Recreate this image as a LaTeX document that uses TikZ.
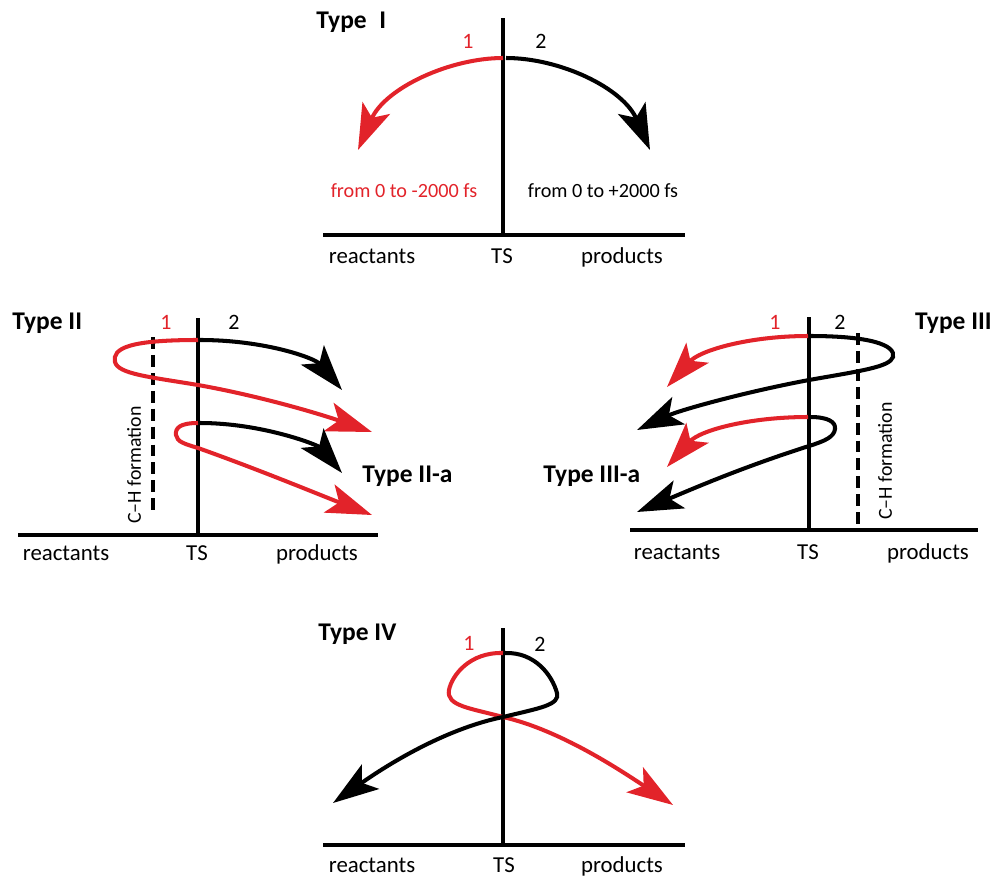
\documentclass[tikz,border=0pt]{standalone}
\usepackage{fontspec}
\setmainfont{Carlito}
\usepackage{xcolor}
\usepackage{tikz}
\usetikzlibrary{arrows.meta}
\definecolor{trajred}{HTML}{E2232A}

\begin{document}
\begin{tikzpicture}[x=0.02cm,y=-0.02cm,
  axis/.style={line width=2.6pt},
  chline/.style={line width=2.4pt,dash pattern=on 6.8pt off 3.4pt},
  traj/.style={line width=2.3pt,-{Stealth[length=26pt,width=17pt,inset=6pt]}},
  lbl/.style={font=\fontsize{13}{15}\selectfont,anchor=base,inner sep=0pt},
  num/.style={font=\fontsize{12.5}{15}\selectfont,anchor=base,inner sep=0pt},
  tlbl/.style={font=\bfseries\fontsize{14.5}{17}\selectfont,anchor=base west,inner sep=0pt},
  small/.style={font=\fontsize{11.5}{14}\selectfont,anchor=base,inner sep=0pt}
]
\useasboundingbox (0,0) rectangle (995,876);

% Type I
\coordinate (Itop) at (503,18);
\coordinate (Ibot) at (503,235);
\coordinate (Il) at (323,235);
\coordinate (Ir) at (685,235);
\draw[axis] (Il) -- (Ir);
\draw[axis] (Itop) -- (Ibot);
\node[tlbl] (Itype) at (316,28) {Type\hspace{0.5em}I};
\node[num,text=trajred] (Ione) at (468,48) {1};
\node[num] (Itwo) at (541,48) {2};
\coordinate (Io) at (503,58);
\coordinate (Ire) at (358,150);
\coordinate (Ipr) at (650,150);
\draw[traj,draw=trajred] (Io) .. controls (450,58) and (385,88) .. (Ire);
\draw[traj] (Io) ++(3,0) .. controls (560,58) and (623,88) .. (Ipr);
\node[small,text=trajred] (Ineg) at (404,197) {from 0 to -2000 fs};
\node[small] (Ipos) at (603,197) {from 0 to +2000 fs};
\node[lbl] (Ireac) at (372,263) {reactants};
\node[lbl] (Its) at (502,263) {TS};
\node[lbl] (Iprod) at (622,263) {products};

% Type II
\coordinate (IItop) at (198,318);
\coordinate (IIbot) at (198,535);
\coordinate (IIl) at (18,535);
\coordinate (IIr) at (378,535);
\draw[axis] (IIl) -- (IIr);
\draw[axis] (IItop) -- (IIbot);
\coordinate (IIch1) at (153,337);
\coordinate (IIch2) at (153,510);
\draw[chline] (IIch1) -- (IIch2);
\node[font=\fontsize{11.3}{13}\selectfont,rotate=90,inner sep=0pt] (IIch) at (134,465) {C--H formation};
\node[tlbl] (IItype) at (12,329) {Type II};
\node[tlbl] (IIatype) at (362,482) {Type II-a};
\node[num,text=trajred] (IIone) at (166,329) {1};
\node[num] (IItwo) at (234,329) {2};
\draw[traj,draw=trajred] (198,340) .. controls (130,340) and (112,348) .. (115,362)
  .. controls (118,374) and (150,377) .. (198,385) .. controls (260,396) and (320,414) .. (372,432);
\draw[traj] (200,340) .. controls (265,340) and (315,358) .. (342,390);
\draw[traj,draw=trajred] (198,423) .. controls (180,423) and (175,428) .. (176,435)
  .. controls (177,442) and (185,444) .. (198,448) .. controls (260,470) and (320,495) .. (372,515);
\draw[traj] (200,423) .. controls (262,423) and (318,445) .. (342,473);
\node[lbl] (IIreac) at (66,560) {reactants};
\node[lbl] (IIts) at (197,560) {TS};
\node[lbl] (IIprod) at (317,560) {products};

% Type III
\coordinate (IIItop) at (809,317);
\coordinate (IIIbot) at (809,530);
\coordinate (IIIl) at (630,530);
\coordinate (IIIr) at (978,530);
\draw[axis] (IIIl) -- (IIIr);
\draw[axis] (IIItop) -- (IIIbot);
\coordinate (IIIch1) at (858,333);
\coordinate (IIIch2) at (858,530);
\draw[chline] (IIIch1) -- (IIIch2);
\node[font=\fontsize{11.3}{13}\selectfont,rotate=90,inner sep=0pt] (IIIch) at (885,461) {C--H formation};
\node[tlbl,anchor=base east] (IIItype) at (992,329) {Type III};
\node[tlbl] (IIIatype) at (543,482) {Type III-a};
\node[num,text=trajred] (IIIone) at (775,329) {1};
\node[num] (IIItwo) at (840,329) {2};
\draw[traj,draw=trajred] (808,336) .. controls (750,336) and (700,350) .. (667,387);
\draw[traj] (810,336) .. controls (870,336) and (896,345) .. (893,357)
  .. controls (890,367) and (860,371) .. (809,380) .. controls (745,392) and (680,410) .. (637,430);
\draw[traj,draw=trajred] (808,417) .. controls (750,417) and (700,430) .. (667,467);
\draw[traj] (810,417) .. controls (828,417) and (836,422) .. (835,429)
  .. controls (834,437) and (825,441) .. (809,446) .. controls (740,468) and (690,490) .. (637,512);
\node[lbl] (IIIreac) at (677,559) {reactants};
\node[lbl] (IIIts) at (808,559) {TS};
\node[lbl] (IIIprod) at (928,559) {products};

% Type IV
\coordinate (IVtop) at (503,628);
\coordinate (IVbot) at (503,845);
\coordinate (IVl) at (323,845);
\coordinate (IVr) at (685,845);
\draw[axis] (IVl) -- (IVr);
\draw[axis] (IVtop) -- (IVbot);
\node[tlbl] (IVtype) at (318,640) {Type IV};
\node[num,text=trajred] (IVone) at (469,650) {1};
\node[num] (IVtwo) at (540,651) {2};
\coordinate (IVx) at (503,717);
\draw[traj,draw=trajred] (503,653) .. controls (470,652) and (452,675) .. (449,690)
  .. controls (446,706) and (470,708) .. (IVx) .. controls (560,730) and (620,770) .. (673,805);
\draw[traj] (505,653) .. controls (535,652) and (552,675) .. (557,693)
  .. controls (560,705) and (540,708) .. (IVx) .. controls (440,730) and (380,770) .. (333,803);
\node[lbl] (IVreac) at (372,872) {reactants};
\node[lbl] (IVts) at (504,872) {TS};
\node[lbl] (IVprod) at (622,872) {products};
\end{tikzpicture}
\end{document}
